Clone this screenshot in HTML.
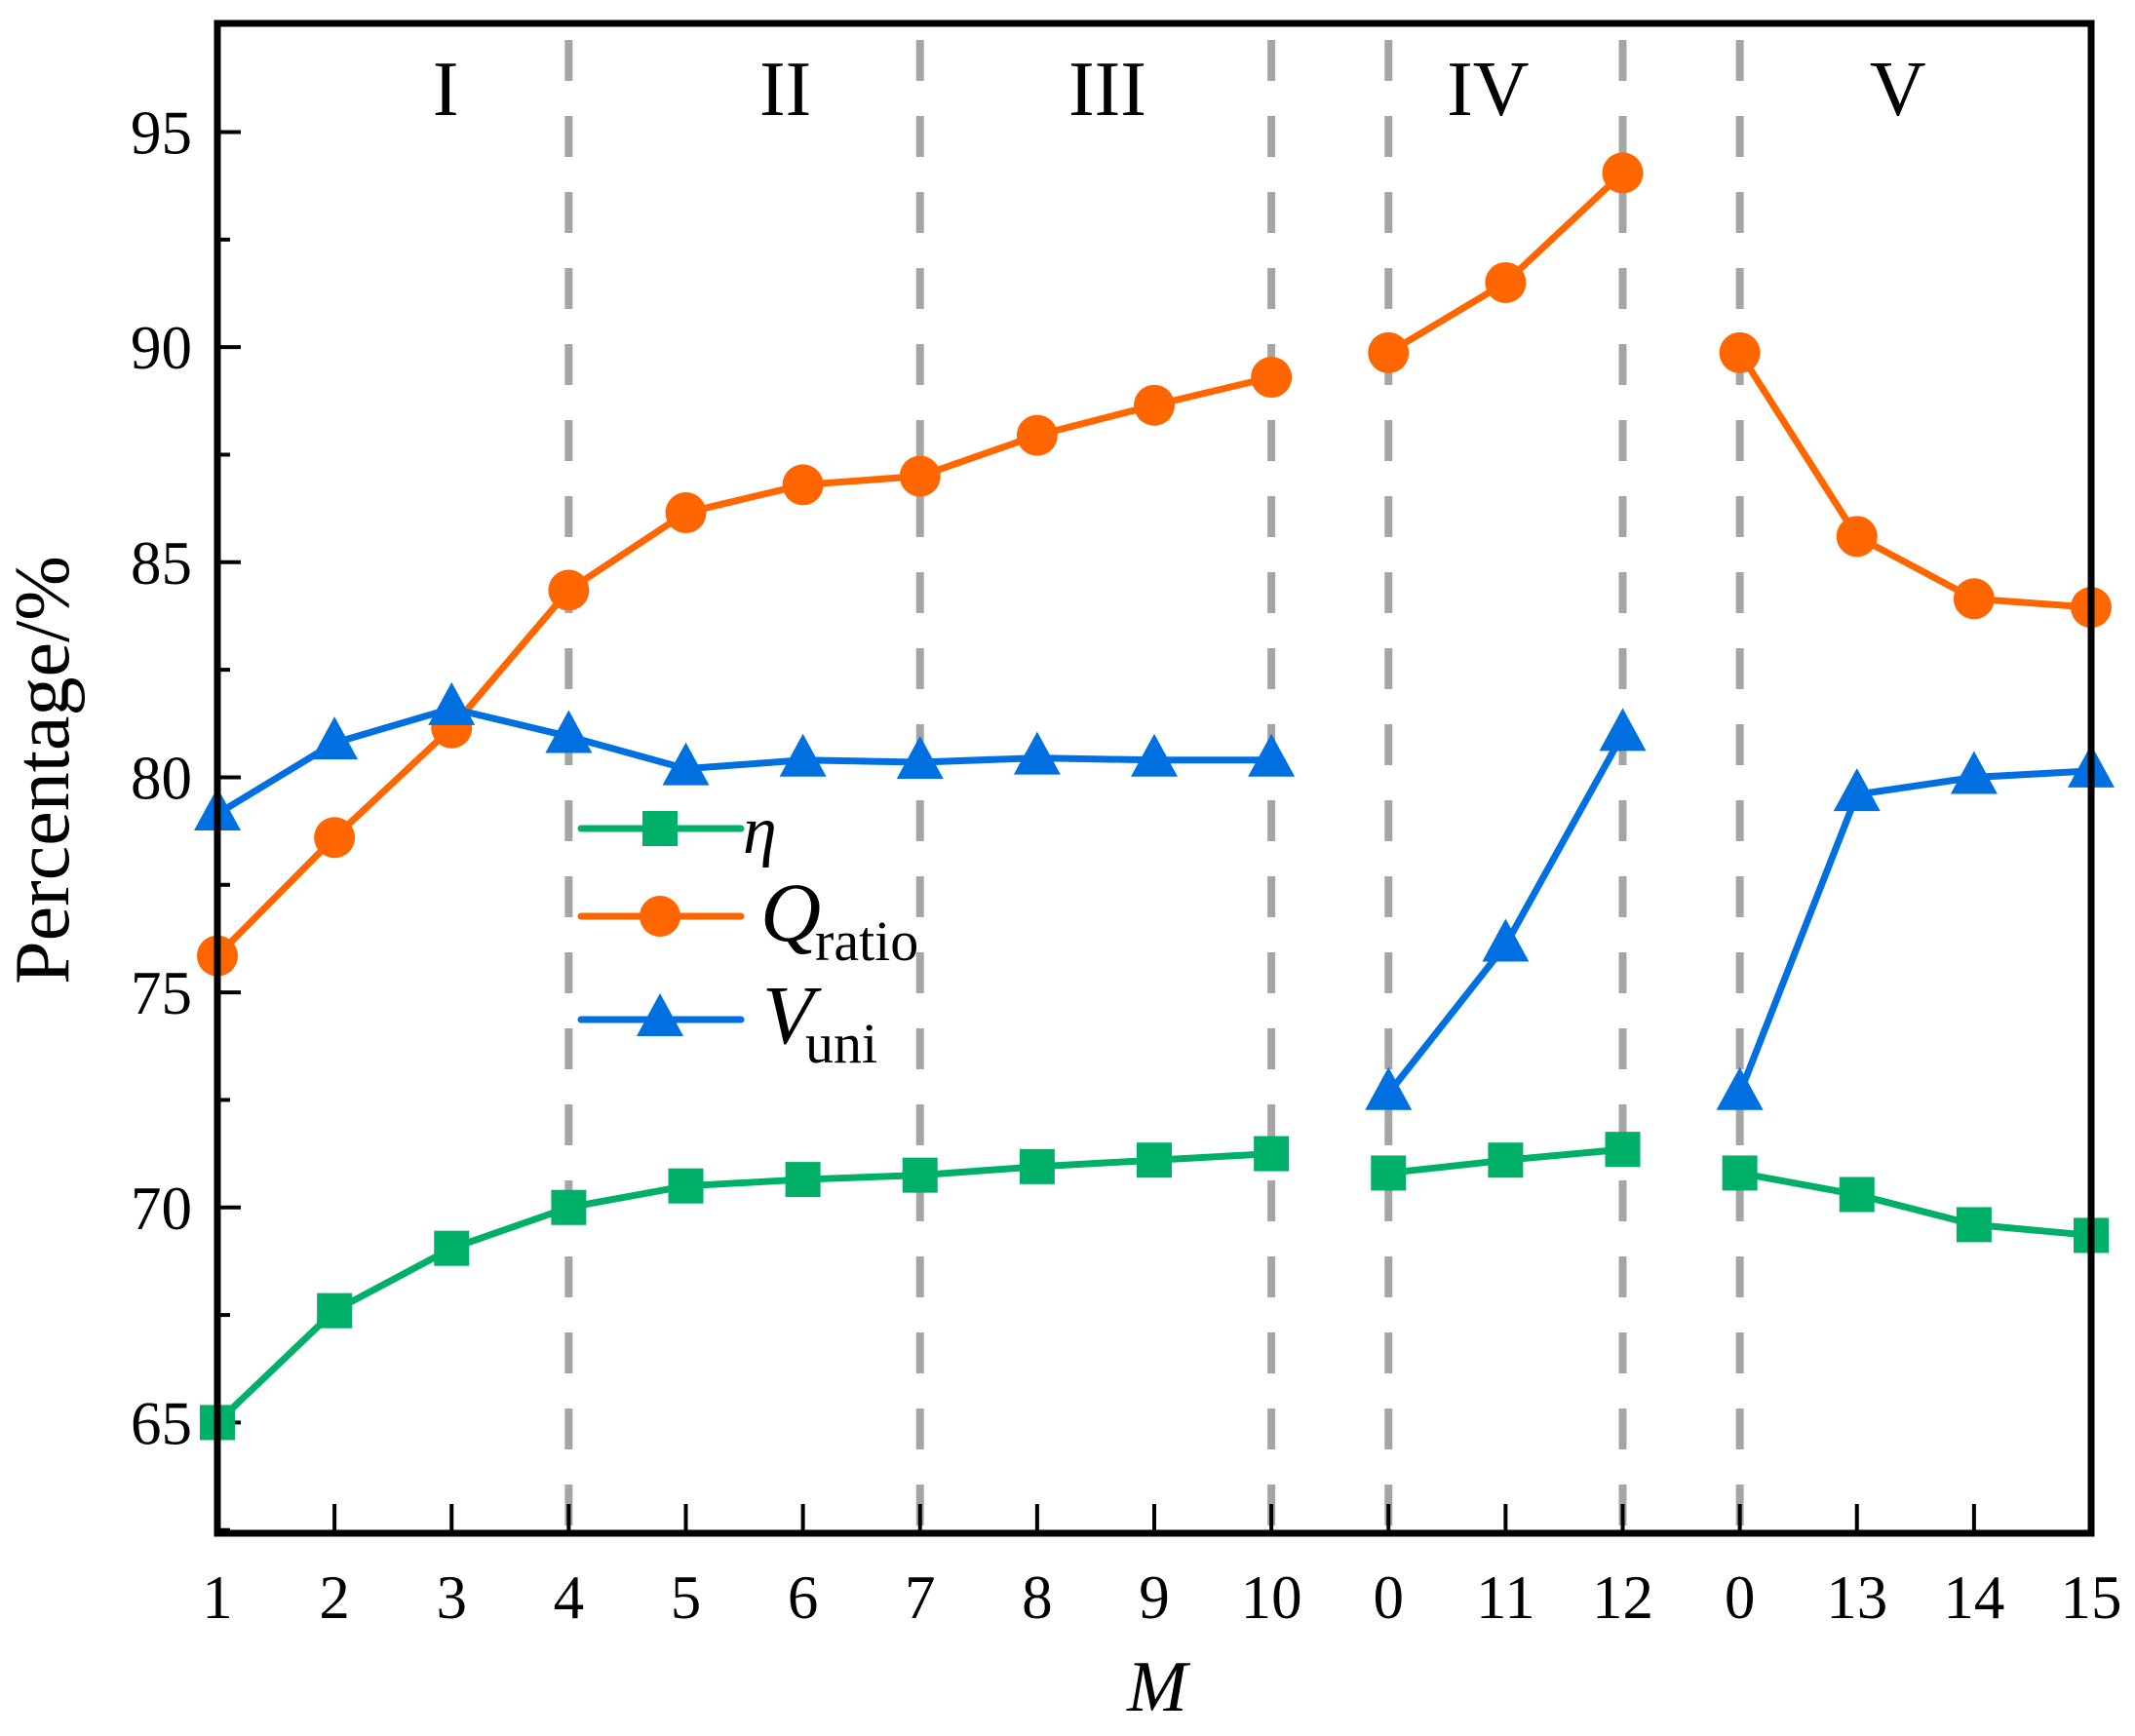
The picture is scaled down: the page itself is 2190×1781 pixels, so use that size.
<!DOCTYPE html>
<html><head><meta charset="utf-8"><style>html,body{margin:0;padding:0;background:#fff}svg{display:block}</style></head>
<body>
<svg id="s" width="2190" height="1781" xmlns="http://www.w3.org/2000/svg" font-family="'Liberation Serif', serif"></svg>
<script>
const s=document.getElementById('s');
const L=223,R=2145,T=24,B=1573;
const X=i=>L+i*(R-L)/16;
const Y=v=>135.5+(95-v)*44.13;
let h='';
[3,6,9,10,12,13].forEach(i=>{h+=`<line x1="${X(i)}" y1="41" x2="${X(i)}" y2="${B}" stroke="#a5a5a5" stroke-width="8" stroke-dasharray="42,36"/>`;});
for(let i=0;i<=16;i++){h+=`<line x1="${X(i)}" y1="${B}" x2="${X(i)}" y2="${B-30}" stroke="#000" stroke-width="4"/>`;}
for(let v=62.5;v<=97.5;v+=2.5){const maj=(v%5===0);h+=`<line x1="${L}" y1="${Y(v)}" x2="${L+(maj?24:13)}" y2="${Y(v)}" stroke="#000" stroke-width="4"/>`;
 if(maj&&v>=65&&v<=95)h+=`<text x="${L-26}" y="${Y(v)+22}" font-size="63" text-anchor="end">${v}</text>`;}
const xl=['1','2','3','4','5','6','7','8','9','10','0','11','12','0','13','14','15'];
xl.forEach((t,i)=>{h+=`<text x="${X(i)}" y="1660" font-size="63" text-anchor="middle">${t}</text>`;});
[['I',1.95],['II',4.85],['III',7.6],['IV',10.85],['V',14.35]].forEach(([t,i])=>{h+=`<text x="${X(i)}" y="118" font-size="80" text-anchor="middle">${t}</text>`;});
h+=`<text x="1187" y="1755" font-size="74" font-style="italic" text-anchor="middle">M</text>`;
h+=`<text transform="translate(70,790) rotate(-90)" font-size="80" text-anchor="middle">Percentage/%</text>`;
const G='#00b068',O='#ff6600',Bl='#0070e0';
const eta=[[65,67.6,69.05,70.0,70.5,70.65,70.75,70.95,71.1,71.25],[70.8,71.1,71.35],[70.8,70.3,69.6,69.35]];
const Q=[[75.85,78.6,81.15,84.35,86.15,86.8,87.0,87.95,88.65,89.3],[89.87,91.5,94.05],[89.87,85.6,84.15,83.95]];
const V=[[79.15,80.8,81.6,80.95,80.2,80.4,80.35,80.45,80.4,80.4],[72.65,76.1,81.0],[72.65,79.6,80.0,80.15]];
const starts=[0,10,13];
function mk(t,x,y,c){if(t==='s')return `<rect x="${x-18}" y="${y-18}" width="36" height="36" fill="${c}"/>`;
 if(t==='c')return `<circle cx="${x}" cy="${y}" r="21" fill="${c}"/>`;
 return `<polygon points="${x},${y-27} ${x-24},${y+17} ${x+24},${y+17}" fill="${c}"/>`;}
function series(d,c,t){d.forEach((seg,k)=>{const pts=seg.map((v,j)=>[X(starts[k]+j),Y(v)]);
 h+=`<polyline points="${pts.map(p=>p.join(',')).join(' ')}" fill="none" stroke="${c}" stroke-width="7" stroke-linejoin="round"/>`;
 pts.forEach(p=>h+=mk(t,p[0],p[1],c));});}
series(eta,G,'s');series(Q,O,'c');series(V,Bl,'t');
[[850,G,'s'],[940,O,'c'],[1046,Bl,'t']].forEach(([y,c,t])=>{h+=`<line x1="596" y1="${y}" x2="760" y2="${y}" stroke="${c}" stroke-width="7" stroke-linecap="round"/>`+mk(t,677,y,c);});
h+=`<text x="762" y="875" font-size="70" font-style="italic">η</text>`;
h+=`<text x="780" y="965" font-size="86" font-style="italic">Q</text><text x="836" y="985" font-size="58">ratio</text>`;
h+=`<text x="782" y="1070" font-size="86" font-style="italic">V</text><text x="826" y="1090" font-size="58">uni</text>`;
h+=`<rect x="${L}" y="${T}" width="${R-L}" height="${B-T}" fill="none" stroke="#000" stroke-width="7"/>`;
s.innerHTML=h;
</script>
</body></html>
